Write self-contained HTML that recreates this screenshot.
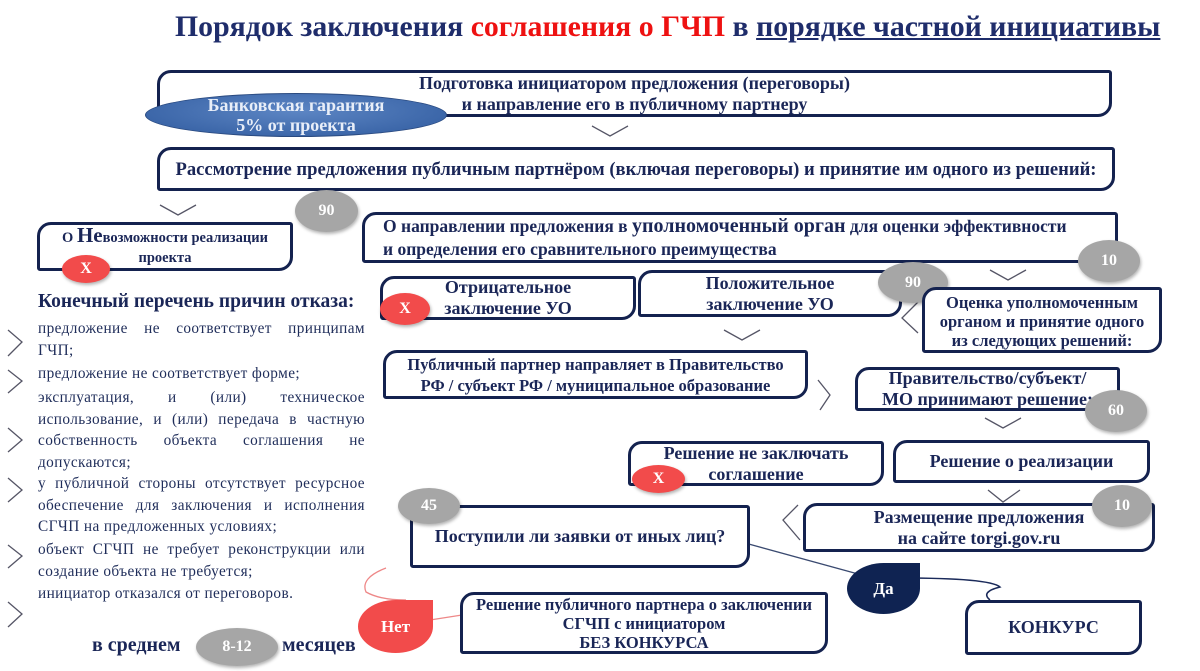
<!DOCTYPE html>
<html><head><meta charset="utf-8"><style>
body{margin:0;width:1200px;height:671px;background:#fff;position:relative;overflow:hidden;font-family:"Liberation Serif","Noto Serif CJK SC",serif;color:#1a2657}
.a{position:absolute}
.b{position:absolute;border:3px solid #14224f;border-radius:14px 3px 14px 3px;box-sizing:border-box;display:flex;align-items:center;justify-content:center;text-align:center;font-weight:bold;font-size:18px;line-height:21px;background:#fff;color:#1a2657;white-space:nowrap}
.c{position:absolute;border-radius:50%;background:#a6a6a6;color:#fff;font-weight:bold;font-size:16px;display:flex;align-items:center;justify-content:center;box-shadow:1px 2px 3px rgba(0,0,0,.3)}
.x{background:#f24b4b}
.l{position:absolute;left:38px;width:327px;font-size:15.3px;letter-spacing:0.4px;line-height:21.5px;text-align:justify;color:#1f2d5a}
</style></head><body>
<div class="a" style="left:175px;top:10px;font-size:29.8px;font-weight:bold;white-space:nowrap;color:#1f2d6b">Порядок заключения <span style="color:#e11">соглашения о ГЧП</span> в <span style="text-decoration:underline">порядке частной инициативы</span></div>

<svg class="a" style="left:0;top:0" width="1200" height="671">
<g fill="none" stroke="#556" stroke-width="1.3">
<path d="M592 126 L610 136 L628 126"/>
<path d="M160 205 L178 215 L196 205"/>
<path d="M990 270 L1008 280 L1026 270"/>
<path d="M918 302 L902 318 L918 333"/>
<path d="M724 330 L742 340 L760 330"/>
<path d="M818 380 L830 395 L820 410"/>
<path d="M985 418 L1003 428 L1021 418"/>
<path d="M988 490 L1003 502 L1020 490"/>
<path d="M798 505 L783 520 L800 540"/>
<path d="M8 330 L22 342 L8 356"/><path d="M8 370 L22 381 L8 393"/><path d="M8 428 L22 440 L8 452"/>
<path d="M8 478 L22 490 L8 502"/><path d="M8 545 L22 556 L8 568"/><path d="M8 602 L22 614 L8 627"/>
<path d="M745 543 L880 580" stroke="#3a4a70"/>
<path d="M900 578 Q990 578 1000 587 Q980 592 990 600" stroke="#1a2a5a" stroke-width="1.5"/>
<path d="M386 568 Q360 578 366 592 Q380 600 406 600" stroke="#e88"/>
<path d="M430 620 L462 615" stroke="#e88"/>
</g></svg>

<div class="b" style="left:157px;top:70px;width:955px;height:47px"><div>Подготовка инициатором предложения (переговоры)<br>и направление его в публичному партнеру</div></div>
<div class="a" style="left:145px;top:93px;width:300px;height:42px;border-radius:50%;background:radial-gradient(ellipse at 50% 40%,#5d86c4,#2f5a9e);border:1px solid #2a4a80;color:#e8eef8;font-weight:bold;font-size:18px;line-height:20px;text-align:center;display:flex;align-items:center;justify-content:center"><div>Банковская гарантия<br>5% от проекта</div></div>
<div class="b" style="left:157px;top:147px;width:958px;height:44px;font-size:18.6px"><div>Рассмотрение предложения публичным партнёром (включая переговоры) и принятие им одного из решений:</div></div>

<div class="b" style="left:37px;top:222px;width:256px;height:49px;font-size:14.5px;line-height:20px"><div>О <span style="font-size:21px">Не</span>возможности реализации<br>проекта</div></div>
<div class="c x" style="left:62px;top:255px;width:48px;height:28px">Х</div>
<div class="c" style="left:295px;top:190px;width:63px;height:42px">90</div>

<div class="b" style="left:362px;top:212px;width:756px;height:51px;justify-content:flex-start;text-align:left;padding-left:18px;font-size:17.5px;line-height:23px"><div>О направлении предложения в <span style="font-size:20px">уполномоченный орган</span> для оценки эффективности<br>и определения его сравнительного преимущества</div></div>
<div class="c" style="left:1078px;top:240px;width:62px;height:42px">10</div>

<div class="b" style="left:380px;top:276px;width:256px;height:44px"><div>Отрицательное<br>заключение УО</div></div>
<div class="c x" style="left:380px;top:293px;width:50px;height:32px">Х</div>
<div class="b" style="left:638px;top:270px;width:264px;height:47px"><div>Положительное<br>заключение УО</div></div>
<div class="c" style="left:878px;top:262px;width:70px;height:41px">90</div>
<div class="b" style="left:922px;top:287px;width:240px;height:66px;font-size:16.5px;line-height:19px;padding-top:3px"><div>Оценка уполномоченным<br>органом и принятие одного<br>из следующих решений:</div></div>

<div class="b" style="left:383px;top:350px;width:425px;height:49px;font-size:16.5px"><div>Публичный партнер направляет в Правительство<br>РФ / субъект РФ / муниципальное образование</div></div>
<div class="b" style="left:855px;top:367px;width:265px;height:44px;font-size:18px"><div>Правительство/субъект/<br>МО принимают решение:</div></div>
<div class="c" style="left:1085px;top:390px;width:62px;height:42px">60</div>

<div class="b" style="left:628px;top:441px;width:256px;height:45px"><div>Решение не заключать<br>соглашение</div></div>
<div class="c x" style="left:632px;top:465px;width:53px;height:28px">Х</div>
<div class="b" style="left:893px;top:440px;width:257px;height:43px"><div>Решение о реализации</div></div>

<div class="b" style="left:803px;top:503px;width:352px;height:49px"><div>Размещение предложения<br>на сайте torgi.gov.ru</div></div>
<div class="c" style="left:1092px;top:485px;width:60px;height:42px">10</div>

<div class="b" style="left:410px;top:505px;width:340px;height:63px"><div>Поступили ли заявки от иных лиц?</div></div>
<div class="c" style="left:398px;top:488px;width:62px;height:36px">45</div>

<div class="a" style="left:847px;top:563px;width:73px;height:51px;background:#0f2352;border-radius:50% 0 50% 50%;color:#fff;font-weight:bold;font-size:17px;display:flex;align-items:center;justify-content:center">Да</div>
<div class="b" style="left:460px;top:592px;width:368px;height:62px;font-size:16.5px;line-height:19px"><div>Решение публичного партнера о заключении<br>СГЧП с инициатором<br>БЕЗ КОНКУРСА</div></div>
<div class="a" style="left:358px;top:600px;width:75px;height:53px;background:#f24b4b;border-radius:50% 0 50% 50%;color:#fff;font-weight:bold;font-size:17px;display:flex;align-items:center;justify-content:center">Нет</div>
<div class="b" style="left:965px;top:600px;width:177px;height:55px"><div>КОНКУРС</div></div>

<div class="a" style="left:38px;top:291px;font-size:19.5px;font-weight:bold;color:#1a2657">Конечный перечень причин отказа:</div>
<div class="l" style="top:318px">предложение не соответствует принципам ГЧП;</div>
<div class="l" style="top:363px">предложение не соответствует форме;</div>
<div class="l" style="top:387px">эксплуатация, и (или) техническое использование, и (или) передача в частную собственность объекта соглашения не допускаются;</div>
<div class="l" style="top:473px">у публичной стороны отсутствует ресурсное обеспечение для заключения и исполнения СГЧП на предложенных условиях;</div>
<div class="l" style="top:539px">объект СГЧП не требует реконструкции или создание объекта не требуется;</div>
<div class="l" style="top:583px">инициатор отказался от переговоров.</div>

<div class="a" style="left:92px;top:634px;font-size:20px;font-weight:bold">в среднем</div>
<div class="c" style="left:196px;top:628px;width:82px;height:38px">8-12</div>
<div class="a" style="left:282px;top:634px;font-size:20px;font-weight:bold">месяцев</div>
</body></html>
